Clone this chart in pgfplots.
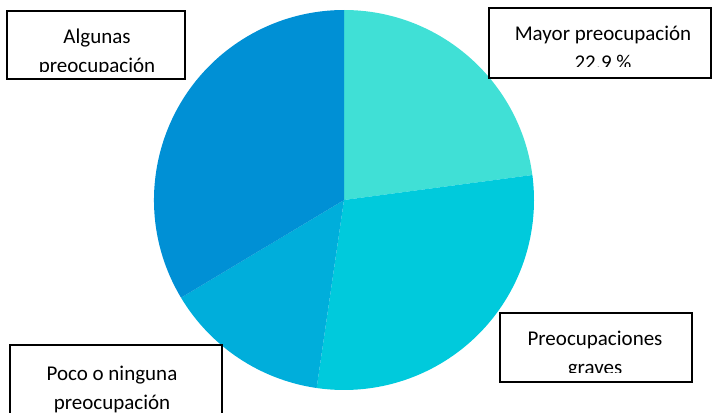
\documentclass[border=0pt]{standalone}
\usepackage{pgfplots}
\pgfplotsset{compat=1.18}
\usepackage{fontspec}
\setmainfont{Carlito}

\definecolor{cMayor}{HTML}{40E0D6}
\definecolor{cGraves}{HTML}{00CADC}
\definecolor{cPoco}{HTML}{00AEDB}
\definecolor{cAlgunas}{HTML}{0090D5}

% pie slices in percent, clockwise from 12 o'clock
% #1 = share before this slice, #2 = share of this slice, #3 = colour
\newcommand{\slice}[3]{%
  \fill[#3] (axis cs:344,212) -- ++({90-3.6*(#1)}:190bp)
    arc[start angle={90-3.6*(#1)}, delta angle={-3.6*(#2)}, radius=190bp] -- cycle;}

% label box: #1,#2 lower-left, #3,#4 upper-right, #5 clip height,
% #6 centre x, #7 first baseline, #8 line 1, #9 line 2
\newcommand{\labelbox}[9]{%
  \fill[white] (axis cs:#1,#2) rectangle (axis cs:#3,#4);
  \begin{scope}
    \clip (axis cs:#1,#5) rectangle (axis cs:#3,#4);
    \node[anchor=base, inner sep=0pt] at (axis cs:#6,#7) {#8};
    \node[anchor=base, inner sep=0pt] at (axis cs:#6,#7-29) {#9};
  \end{scope}
  \draw[black, line width=1.5bp] (axis cs:#1,#2) rectangle (axis cs:#3,#4);}

\begin{document}
\begin{tikzpicture}
\begin{axis}[
  name=ax,
  x=1bp, y=1bp,
  xmin=0, xmax=712, ymin=0, ymax=412,
  hide axis,
  clip=true,
  font=\fontsize{21bp}{25bp}\selectfont,
  ]
  \slice{0}{22.9}{cMayor}
  \slice{22.9}{29.4}{cGraves}
  \slice{52.3}{14.1}{cPoco}
  \slice{66.4}{33.6}{cAlgunas}

  \labelbox{7}{333}{185}{401}{341}{97}{369}{Algunas}{preocupación}
  \labelbox{489}{334}{711}{404}{346}{603}{372}{Mayor preocupación}{22.9 \%}
  \labelbox{500}{30}{692}{99}{40}{595}{67}{Preocupaciones}{graves}
  \labelbox{10}{-20}{222}{67}{0}{112}{32}{Poco o ninguna}{preocupación}
\end{axis}
\pgfresetboundingbox
\useasboundingbox (ax.south west) rectangle (ax.north east);
\end{tikzpicture}
\end{document}
